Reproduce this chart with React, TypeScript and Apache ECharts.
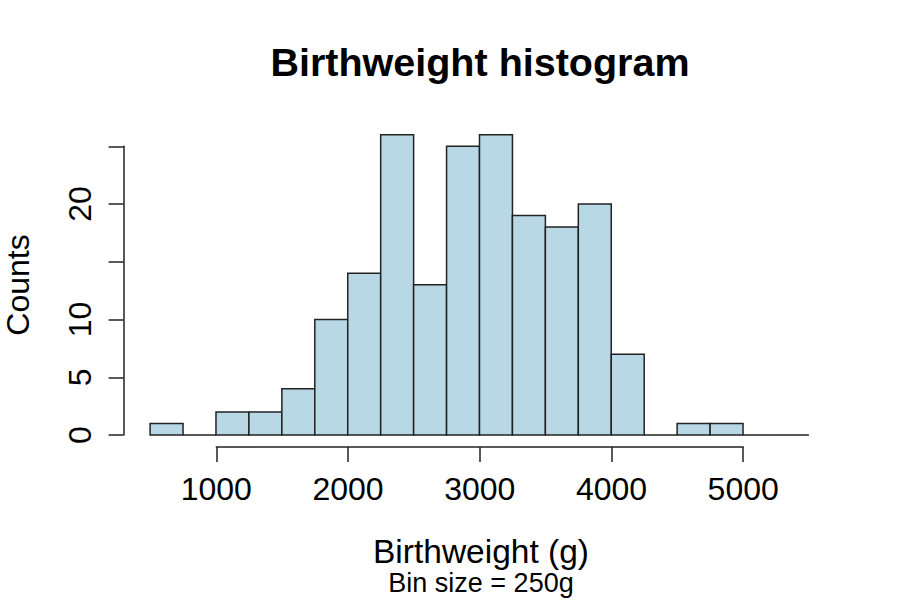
import React, { useEffect, useRef } from "react";
import * as echarts from "echarts";

const binEdges = [500, 750, 1000, 1250, 1500, 1750, 2000, 2250, 2500, 2750, 3000, 3250, 3500, 3750, 4000, 4250, 4500, 4750, 5000, 5250, 5500];
const counts = [1, 0, 2, 2, 4, 10, 14, 26, 13, 25, 26, 19, 18, 20, 7, 0, 1, 1, 0, 0];
const xTicks = [1000, 2000, 3000, 4000, 5000];
const yTicks = [0, 5, 10, 15, 20, 25];
const yTickLabels = ["0", "5", "10", "", "20", ""];

const FONT = "'Liberation Sans', Arial, Helvetica, sans-serif";

export default function App() {
  const ref = useRef<HTMLDivElement>(null);
  useEffect(() => {
    if (!ref.current) return;
    const chart = echarts.init(ref.current, undefined, { renderer: "svg" });
    const bins = counts.map((c, i) => [binEdges[i], binEdges[i + 1], c]);
    const option: any = {
      animation: false,
      backgroundColor: "#ffffff",
      grid: [
        { left: 150.1, right: 91.1, top: 134.7, bottom: 165, containLabel: false },
        { left: 216.3, right: 156.8, top: 446, bottom: 153, containLabel: false },
        { left: 123.6, width: 1, top: 146.25, bottom: 165, containLabel: false },
      ],
      xAxis: [
        { type: "value", gridIndex: 0, min: binEdges[0], max: binEdges[binEdges.length - 1], show: false },
        {
          type: "value", gridIndex: 1, min: xTicks[0], max: xTicks[xTicks.length - 1], interval: 1000,
          position: "bottom",
          axisLine: { show: true, lineStyle: { color: "#222", width: 1.5 } },
          axisTick: { show: true, length: 15, lineStyle: { color: "#222", width: 1.5 } },
          axisLabel: {
            show: true, margin: 26, color: "#000", fontSize: 32, fontFamily: FONT,
            showMinLabel: true, showMaxLabel: true,
            formatter: (v: number) => String(v),
          },
          splitLine: { show: false },
        },
        { type: "value", gridIndex: 2, min: 0, max: 1, show: false },
      ],
      yAxis: [
        { type: "value", gridIndex: 0, min: 0, max: 26, show: false },
        { type: "value", gridIndex: 1, min: 0, max: 1, show: false },
        {
          type: "value", gridIndex: 2, min: 0, max: 25, interval: 5, position: "left",
          axisLine: { show: true, lineStyle: { color: "#222", width: 1.5 } },
          axisTick: { show: true, length: 15, lineStyle: { color: "#222", width: 1.5 } },
          axisLabel: {
            show: true, margin: 28, rotate: 90, color: "#000", fontSize: 32, fontFamily: FONT,
            showMinLabel: true, showMaxLabel: true,
            formatter: (v: number) => {
              const i = yTicks.indexOf(v);
              return i >= 0 ? yTickLabels[i] : "";
            },
          },
          splitLine: { show: false },
        },
      ],
      series: [
        {
          type: "custom",
          xAxisIndex: 0,
          yAxisIndex: 0,
          clip: false,
          data: bins,
          renderItem: (params: any, api: any) => {
            const x0 = api.value(0);
            const x1 = api.value(1);
            const c = api.value(2);
            const p0 = api.coord([x0, 0]);
            const p1 = api.coord([x1, c]);
            if (c === 0) {
              return {
                type: "line",
                shape: { x1: p0[0], y1: p0[1], x2: p1[0], y2: p0[1] },
                style: { stroke: "#222", lineWidth: 1.5 },
              };
            }
            return {
              type: "rect",
              shape: { x: p0[0], y: p1[1], width: p1[0] - p0[0], height: p0[1] - p1[1] },
              style: { fill: "#B9D8E5", stroke: "#222", lineWidth: 1.5 },
            };
          },
        },
      ],
      graphic: [
        {
          type: "text", x: 480, y: 62,
          style: { text: "Birthweight histogram", fill: "#000", font: `bold 39.5px ${FONT}`, align: "center", verticalAlign: "middle", textAlign: "center", textVerticalAlign: "middle" },
        },
        {
          type: "text", x: 481, y: 551,
          style: { text: "Birthweight (g)", fill: "#000", font: `33.5px ${FONT}`, align: "center", verticalAlign: "middle", textAlign: "center", textVerticalAlign: "middle" },
        },
        {
          type: "text", x: 481, y: 583,
          style: { text: "Bin size = 250g", fill: "#000", font: `27px ${FONT}`, align: "center", verticalAlign: "middle", textAlign: "center", textVerticalAlign: "middle" },
        },
        {
          type: "text", x: 18, y: 285, rotation: Math.PI / 2,
          style: { text: "Counts", fill: "#000", font: `32px ${FONT}`, align: "center", verticalAlign: "middle", textAlign: "center", textVerticalAlign: "middle" },
        },
      ],
    };
    chart.setOption(option);
    return () => chart.dispose();
  }, []);
  return <div ref={ref} style={{ width: 900, height: 600, position: "absolute", left: 0, top: 0 }} />;
}
